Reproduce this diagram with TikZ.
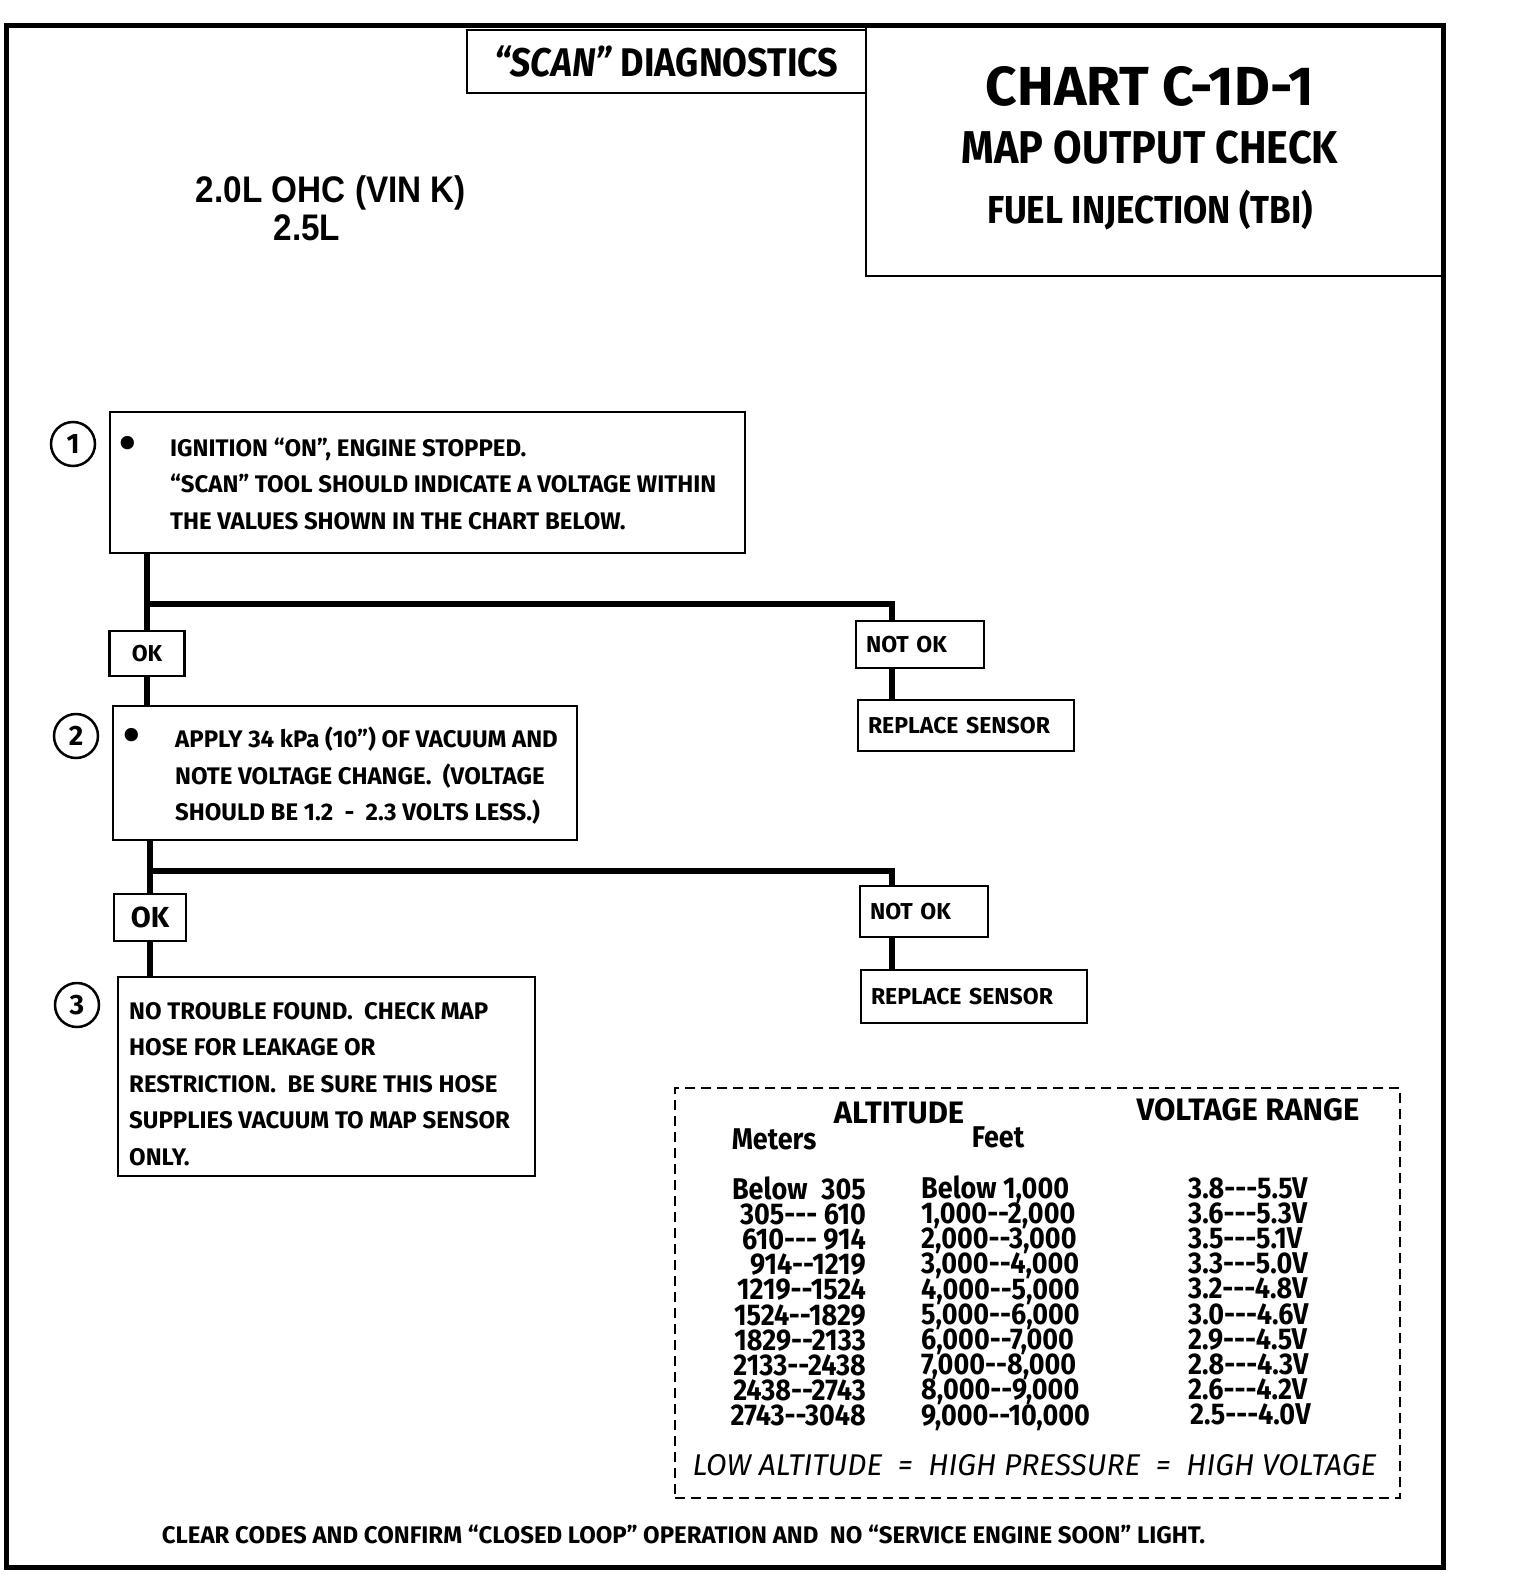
\documentclass[tikz,border=0pt]{standalone}
\usepackage{fontspec}
\setmainfont{Fira Sans}
\newfontfamily\gmfont{Fira Sans}
\newfontfamily\gmcond[FakeStretch=0.9]{Fira Sans}
\newfontfamily\hdrfont[FakeStretch=0.9]{Liberation Sans}
\usetikzlibrary{calc}
\newcommand\tabfont{\gmcond\bfseries\fontsize{30}{25.2}\selectfont\lineskiplimit=-30pt\relax}

\begin{document}
\begin{tikzpicture}[x=1pt, y=-1pt,
		frame/.style={line width=5pt},
		stepbox/.style={draw, line width=2.5pt, inner sep=0pt},
		labelbox/.style={draw, line width=2.5pt, inner xsep=10pt, inner ysep=0pt, align=left, font=\gmfont\bfseries\fontsize{23}{23}\selectfont},
		okbox/.style={draw, line width=2.5pt, inner sep=0pt, font=\gmfont\bfseries\fontsize{23}{23}\selectfont},
		steptext/.style={font=\gmfont\bfseries\fontsize{24}{36.5}\selectfont, align=left, inner sep=0pt, anchor=west},
		dotmark/.style={font=\gmfont\bfseries\fontsize{48}{48}\selectfont, inner sep=0pt},
		numcircle/.style={draw, circle, line width=2.5pt, minimum size=44pt, inner sep=0pt, font=\gmfont\bfseries\fontsize{28}{28}\selectfont},
		trunk/.style={line width=6pt},
		tabtext/.style={font=\tabfont, inner sep=0pt}]
		
		\useasboundingbox (0,0) rectangle (1520,1592);
		
		% outer frame
		\draw[frame] (6,26) rectangle (1443,1567);
		
		% title boxes
		\node[stepbox, minimum width=399, minimum height=63, font=\gmcond\bfseries\fontsize{40}{40}\selectfont] (scanbox) at (666.5,61.5) {\textit{“SCAN”} DIAGNOSTICS};
		\node[stepbox, minimum width=577, minimum height=251] (chartbox) at (1154.5,150.5) {};
		\node[font=\gmfont\bfseries\fontsize{55}{55}\selectfont] (chart) at (1150,86) {CHART C-1D-1};
		\node[font=\gmcond\bfseries\fontsize{46}{46}\selectfont] (mapcheck) at (1150,148) {MAP OUTPUT CHECK};
		\node[font=\gmcond\bfseries\fontsize{39}{39}\selectfont] (fuelinj) at (1150,210) {FUEL INJECTION (TBI)};
		
		% engine
		\node[font=\hdrfont\bfseries\fontsize{37}{37}\selectfont] (engine) at (331,193) {2.0L OHC (VIN K)};
		\node[font=\hdrfont\bfseries\fontsize{37}{37}\selectfont] (engine2) at (307,228) {2.5L};
		
		% step 1
		\node[numcircle] (c1) at (73,444) {1};
		\node[stepbox, minimum width=635, minimum height=141] (s1) at (427.5,482.5) {};
		\node[dotmark] (dot1) at (128,448) {•};
		\node[steptext] (t1) at (170,484) {IGNITION “ON”, ENGINE STOPPED.\\“SCAN” TOOL SHOULD INDICATE A VOLTAGE WITHIN\\THE VALUES SHOWN IN THE CHART BELOW.};
		
		\node[okbox, minimum width=75, minimum height=45] (ok1) at (147,653.5) {OK};
		\node[labelbox, text width=108, minimum height=47] (nok1) at (920,644.5) {NOT OK};
		\node[labelbox, text width=196, minimum height=51] (rep1) at (966,725.5) {REPLACE SENSOR};
		
		\coordinate (j1) at (147,604);
		\coordinate (k1) at (892,604);
		\draw[trunk] (ok1.north |- s1.south) -- (ok1.north);
		\draw[trunk] (j1) -- (k1) -- (k1 |- nok1.north);
		\draw[trunk] (k1 |- nok1.south) -- (k1 |- rep1.north);
		
		% step 2
		\node[numcircle] (c2) at (76,736) {2};
		\node[stepbox, minimum width=464, minimum height=134] (s2) at (345,773) {};
		\node[dotmark] (dot2) at (132,740) {•};
		\node[steptext] (t2) at (175,776) {APPLY 34 kPa (10”) OF VACUUM AND\\NOTE VOLTAGE CHANGE.\ \ (VOLTAGE\\SHOULD BE 1.2\ \ -\ \ 2.3 VOLTS LESS.)};
		\draw[trunk] (ok1.south) -- (ok1.south |- s2.north);
		
		\node[okbox, minimum width=72, minimum height=47, font=\gmfont\bfseries\fontsize{29}{29}\selectfont] (ok2) at (150,917.5) {OK};
		\node[labelbox, text width=108, minimum height=51] (nok2) at (924,911.5) {NOT OK};
		\node[labelbox, text width=206, minimum height=53] (rep2) at (974,996.5) {REPLACE SENSOR};
		
		\coordinate (j2) at (150,871);
		\coordinate (k2) at (892,871);
		\draw[trunk] (ok2.north |- s2.south) -- (ok2.north);
		\draw[trunk] (j2) -- (k2) -- (k2 |- nok2.north);
		\draw[trunk] (k2 |- nok2.south) -- (k2 |- rep2.north);
		
		% step 3
		\node[numcircle] (c3) at (77,1005) {3};
		\node[stepbox, minimum width=417, minimum height=199] (s3) at (326.5,1076.5) {};
		\node[steptext] (t3) at (129,1084) {NO TROUBLE FOUND.\ \ CHECK MAP\\HOSE FOR LEAKAGE OR\\RESTRICTION.\ \ BE SURE THIS HOSE\\SUPPLIES VACUUM TO MAP SENSOR\\ONLY.};
		\draw[trunk] (ok2.south) -- (ok2.south |- s3.north);
		
		% altitude table
		\node[draw, line width=2.5pt, dash pattern=on 10pt off 6pt, minimum width=725, minimum height=410] (altbox) at (1037.5,1293) {};
		\node[font=\gmfont\bfseries\fontsize{31}{31}\selectfont] (alt) at (899,1113) {ALTITUDE};
		\node[font=\gmfont\bfseries\fontsize{31}{31}\selectfont] (volt) at (1248,1110) {VOLTAGE RANGE};
		\node[tabtext] (meters) at (774,1139) {Meters};
		\node[tabtext] (feet) at (998,1137) {Feet};
		
		% rows
		\node[tabtext, align=right, anchor=east] (mcol) at (866,1301.4) {Below\hspace{14pt}305\\305-{}-{}- 610\\610-{}-{}- 914\\914-{}-1219\\1219-{}-1524\\1524-{}-1829\\1829-{}-2133\\2133-{}-2438\\2438-{}-2743\\2743-{}-3048};
		\node[tabtext, align=left, anchor=west] (fcol) at (921,1303) {Below 1,000\\1,000-{}-2,000\\2,000-{}-3,000\\3,000-{}-4,000\\4,000-{}-5,000\\5,000-{}-6,000\\6,000-{}-7,000\\7,000-{}-8,000\\8,000-{}-9,000\\9,000-{}-10,000};
		\node[tabtext, align=left, anchor=west] (vcol) at (1188,1301.4) {3.8-{}-{}-5.5V\\3.6-{}-{}-5.3V\\3.5-{}-{}-5.1V\\3.3-{}-{}-5.0V\\3.2-{}-{}-4.8V\\3.0-{}-{}-4.6V\\2.9-{}-{}-4.5V\\2.8-{}-{}-4.3V\\2.6-{}-{}-4.2V\\\hspace{2pt}2.5-{}-{}-4.0V};
		
		\node[font=\gmfont\itshape\fontsize{30}{30}\selectfont] (lowalt) at (1034.5,1465) {LOW ALTITUDE\ \ =\ \ HIGH PRESSURE\ \ =\ \ HIGH VOLTAGE};
		
		% closing note
		\node[font=\gmfont\bfseries\fontsize{24}{24}\selectfont] (note) at (683.5,1534) {CLEAR CODES AND CONFIRM “CLOSED LOOP” OPERATION AND\ \ NO “SERVICE ENGINE SOON” LIGHT.};
		
	\end{tikzpicture}
\end{document}
